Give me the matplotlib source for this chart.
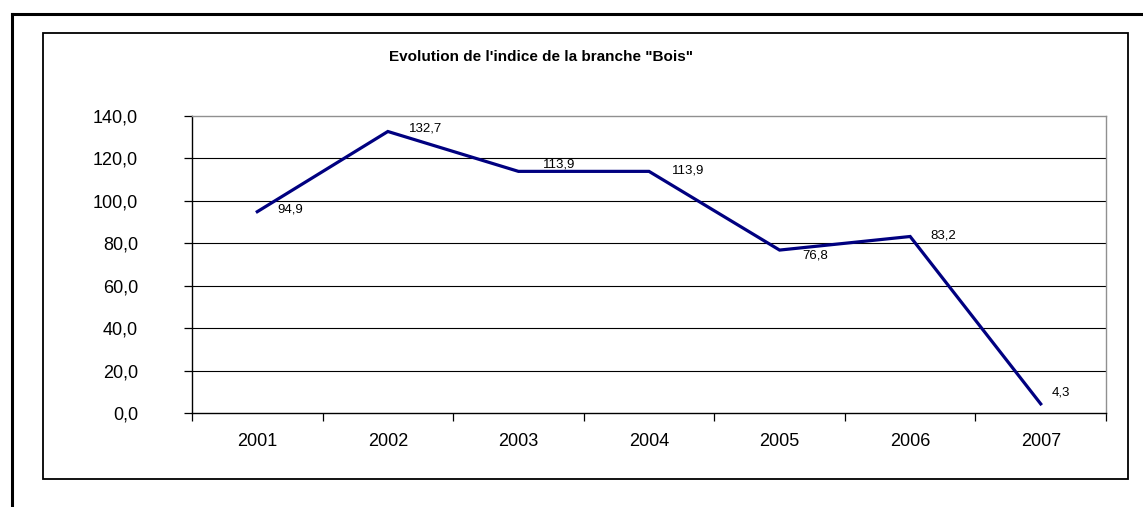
import numpy as np
import matplotlib
matplotlib.use("Agg")
import matplotlib.pyplot as plt
from matplotlib.patches import Rectangle
from matplotlib.lines import Line2D
from matplotlib.ticker import FixedLocator, FuncFormatter


# DATA
YEARS = ["2001", "2002", "2003", "2004", "2005", "2006", "2007"]
INDEX_BOIS = [94.9, 132.7, 113.9, 113.9, 76.8, 83.2, 4.3]
TITLE = "Evolution de l'indice de la branche \"Bois\""

# LAYOUT (pixels)
W, H = 1143, 507
PLOT_LEFT, PLOT_RIGHT, PLOT_TOP, PLOT_BOTTOM = 192, 1106, 116, 413
# label offsets from each point, in pixels (dx, dy up)
LABEL_OFFSETS = [(20, 2), (21, 3), (25, 7), (23, 1), (23, -5), (20, 1), (11, 11)]

plt.rcParams['font.family'] = ['Liberation Sans', 'DejaVu Sans']
PX = 72.0 / 100  # pixel -> points at dpi 100


def fmt(v):
    return ("%.1f" % v).replace(".", ",")


def main():
    fig = plt.figure(figsize=(W / 100, H / 100), dpi=100)
    fig.patch.set_facecolor("white")

    # outer frame (cut off at right and bottom)
    fig.add_artist(Line2D([11.5 / W, 1], [1 - 14 / H, 1 - 14 / H], color="black", lw=2.2, transform=fig.transFigure))
    fig.add_artist(Line2D([11.5 / W, 11.5 / W], [0, 1 - 14 / H], color="black", lw=2.2, transform=fig.transFigure))

    # inner chart frame
    fig.add_artist(Rectangle((42.5 / W, 1 - 479 / H), (1128 - 42.5) / W, (479 - 33) / H,
                             transform=fig.transFigure, fill=False, edgecolor="black", lw=1.3))

    ax = fig.add_axes([PLOT_LEFT / W, 1 - PLOT_BOTTOM / H,
                       (PLOT_RIGHT - PLOT_LEFT) / W, (PLOT_BOTTOM - PLOT_TOP) / H])
    x = np.arange(len(YEARS))
    ax.plot(x, INDEX_BOIS, color="#000080", lw=2.3, solid_joinstyle="miter", zorder=3)

    ax.set_xlim(-0.5, len(YEARS) - 0.5)
    ax.set_ylim(0, 140)

    # y axis
    ax.set_yticks(np.arange(0, 141, 20))
    ax.yaxis.set_major_formatter(FuncFormatter(lambda v, p: fmt(v)))
    ax.tick_params(axis="y", length=8 * PX, width=0.9, pad=46 * PX, labelsize=13, colors="black")
    for g in range(20, 140, 20):
        ax.axhline(g, color="black", lw=0.8, zorder=1)

    # x axis: labels at centres, ticks at boundaries
    ax.set_xticks(x)
    ax.set_xticklabels(YEARS)
    ax.xaxis.set_minor_locator(FixedLocator(np.arange(-0.5, len(YEARS), 1.0)))
    ax.tick_params(axis="x", which="major", length=0, pad=20 * PX, labelsize=13)
    ax.tick_params(axis="x", which="minor", length=8 * PX, width=0.9)

    ax.spines["left"].set_color("black")
    ax.spines["bottom"].set_color("black")
    ax.spines["top"].set_color("#909090")
    ax.spines["right"].set_color("#909090")
    for s in ax.spines.values():
        s.set_linewidth(1.0)

    # data labels
    for i, v in enumerate(INDEX_BOIS):
        dx, dy = LABEL_OFFSETS[i]
        ax.annotate(fmt(v), (x[i], v), xytext=(dx * PX, dy * PX), textcoords="offset points",
                    ha="left", va="center", fontsize=9.5, color="black", zorder=4)

    fig.text(541 / W, 1 - 57 / H, TITLE, ha="center", va="center", fontsize=11, fontweight="bold")

    fig.savefig("out.png", dpi=100)


if __name__ == "__main__":
    main()
